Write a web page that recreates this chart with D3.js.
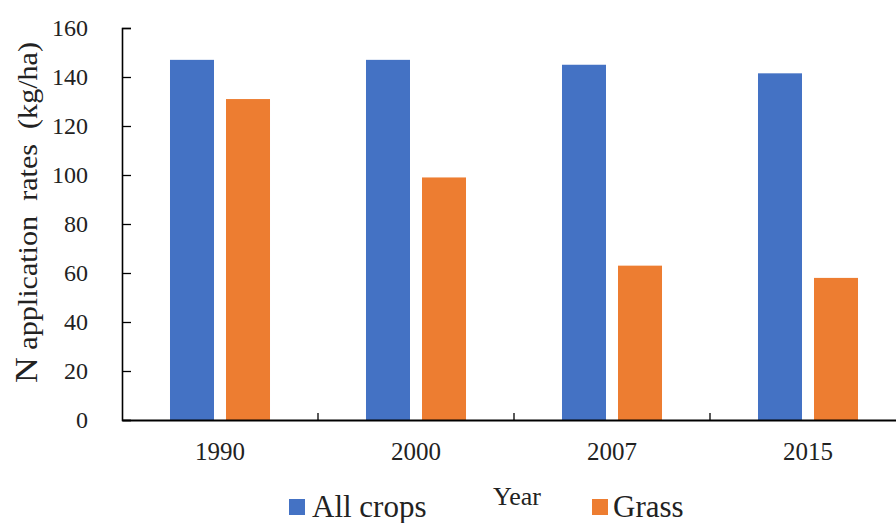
<!DOCTYPE html>
<html>
<head>
<meta charset="utf-8">
<script src="https://cdn.jsdelivr.net/npm/d3@7"></script>
<style>
  html, body { margin: 0; padding: 0; background: #fff; }
  svg { display: block; }
  svg text { font-family: "Liberation Serif", "Tinos", "DejaVu Serif", serif !important; }
</style>
</head>
<body>
<svg id="chart" width="896" height="523"></svg>
<script>
const years = ["1990", "2000", "2007", "2015"];
const seriesNames = ["All crops", "Grass"];
const allCrops = [147, 147, 145, 141.5];
const grass = [131, 99, 63, 58];
const yTicks = [0, 20, 40, 60, 80, 100, 120, 140, 160];
const colors = ["#4472C4", "#ED7D31"];

const svg = d3.select("#chart");
const mLeft = 122, mRight = 906, mTop = 28, mBottom = 420;

const x0 = d3.scaleBand().domain(years).range([mLeft, mRight]).padding(0);
const x1 = d3.scaleBand().domain(seriesNames).range([0, x0.bandwidth()])
  .paddingInner(12 / 56).paddingOuter(0.857);
const y = d3.scaleLinear().domain([0, 160]).range([mBottom, mTop]);

const data = years.map((yr, i) => ({ year: yr, values: [allCrops[i], grass[i]] }));

// bars
const g = svg.append("g");
data.forEach(d => {
  seriesNames.forEach((s, j) => {
    g.append("rect")
      .attr("x", x0(d.year) + x1(s))
      .attr("y", y(d.values[j]))
      .attr("width", x1.bandwidth())
      .attr("height", y(0) - y(d.values[j]))
      .attr("fill", colors[j]);
  });
});

// y axis
const yAxis = d3.axisLeft(y).tickValues(yTicks).tickSizeInner(-9).tickSizeOuter(-9).tickPadding(34);
const ya = svg.append("g").attr("transform", `translate(${mLeft},0)`).call(yAxis);
ya.attr("font-family", null);
ya.select(".domain").attr("stroke", "#000").attr("stroke-width", 1.6);
ya.selectAll(".tick line").attr("stroke", "#000").attr("stroke-width", 1.3);
ya.selectAll(".tick text").attr("font-size", 24).attr("fill", "#222");

// x axis
const xAxis = d3.axisBottom(x0).tickSize(0).tickPadding(22);
const xa = svg.append("g").attr("transform", `translate(0,${mBottom})`).call(xAxis);
xa.attr("font-family", null);
xa.select(".domain").attr("stroke", "#000").attr("stroke-width", 2);
xa.selectAll(".tick text").attr("font-size", 25).attr("fill", "#222");
// boundary ticks pointing up
years.slice(1).forEach(yr => {
  xa.append("line")
    .attr("x1", x0(yr)).attr("x2", x0(yr))
    .attr("y1", 0).attr("y2", -7)
    .attr("stroke", "#000").attr("stroke-width", 1.3);
});

// y title
const yt = svg.append("text")
  .attr("transform", "translate(37,212.5) rotate(-90)")
  .attr("text-anchor", "middle")
  .attr("fill", "#222")
  .attr("font-size", 27)
  .attr("textLength", 341)
  .attr("lengthAdjust", "spacingAndGlyphs")
  .style("white-space", "pre");
yt.append("tspan").attr("font-size", 32).text("N");
yt.append("tspan").text(" application  rates  (kg/ha)");

// x title
svg.append("text")
  .attr("x", 517).attr("y", 505)
  .attr("text-anchor", "middle")
  .attr("font-size", 26).attr("fill", "#222")
  .text("Year");

// legend
const legendPos = [{ sx: 289, tx: 312 }, { sx: 592, tx: 613 }];
seriesNames.forEach((s, j) => {
  svg.append("rect")
    .attr("x", legendPos[j].sx).attr("y", 499)
    .attr("width", 16).attr("height", 16)
    .attr("fill", colors[j]);
  svg.append("text")
    .attr("x", legendPos[j].tx).attr("y", 517)
    .attr("font-size", 31).attr("fill", "#222")
    .text(s);
});
</script>
</body>
</html>
